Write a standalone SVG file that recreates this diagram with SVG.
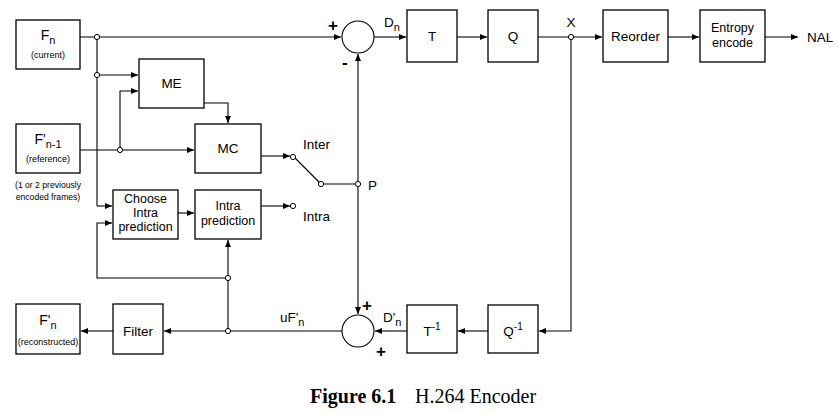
<svg xmlns="http://www.w3.org/2000/svg" width="839" height="414" viewBox="0 0 839 414">
<defs>
<marker id="ah" markerUnits="userSpaceOnUse" markerWidth="8" markerHeight="6" refX="7" refY="3" orient="auto-start-reverse">
<path d="M0,0 L7,3 L0,6 Z" fill="#000"/>
</marker>
</defs>
<style>
.box{fill:#fff;stroke:#000;stroke-width:1.3}
.ln{fill:none;stroke:#000;stroke-width:1.1}
.arr{fill:none;stroke:#000;stroke-width:1.1;marker-end:url(#ah)}
.jn{fill:#fff;stroke:#000;stroke-width:1}
.sum{fill:#fff;stroke:#000;stroke-width:1.1}
text{font-family:"Liberation Sans",Arial,sans-serif;fill:#000}
.t{font-size:13.5px;text-anchor:middle}
.m{font-size:12.5px;text-anchor:middle}
.s{font-size:9px;text-anchor:middle}
.l{font-size:13.5px}
.sg{font-size:17px;font-weight:bold}
.cap{font-family:"Liberation Serif","Times New Roman",serif;font-size:20px}
</style>
<rect width="839" height="414" fill="#fff"/>

<g id="connectors">
<path class="arr" d="M80,37 H341"/>
<path class="ln" d="M97,37 V206"/>
<path class="arr" d="M97,206 H112"/>
<path class="arr" d="M97,75 H138"/>
<path class="arr" d="M80,150 H194"/>
<path class="arr" d="M120,150 V91 H138"/>
<path class="arr" d="M204,103 H228 V123"/>
<path class="arr" d="M261,156 H290"/>
<path class="ln" d="M295,158 L319,182"/>
<path class="ln" d="M323,184 H358"/>
<path class="arr" d="M261,206 H290"/>
<path class="arr" d="M178,213 H194"/>
<path class="arr" d="M358,184 V54"/>
<path class="arr" d="M358,184 V314"/>
<path class="arr" d="M374,37 H406"/>
<path class="arr" d="M457,37 H487"/>
<path class="arr" d="M538,37 H602"/>
<path class="arr" d="M668,37 H699"/>
<path class="arr" d="M765,37 H798"/>
<path class="arr" d="M571,37 V331 H539"/>
<path class="arr" d="M488,331 H458"/>
<path class="arr" d="M407,331 H375"/>
<path class="arr" d="M342,331 H164"/>
<path class="arr" d="M113,331 H81"/>
<path class="arr" d="M228,331 V240"/>
<path class="arr" d="M228,278 H97 V223 H112"/>
<circle class="jn" cx="97" cy="37" r="2.6"/>
<circle class="jn" cx="97" cy="75" r="2.6"/>
<circle class="jn" cx="120" cy="150" r="2.6"/>
<circle class="jn" cx="293" cy="157" r="2.6"/>
<circle class="jn" cx="293" cy="206" r="2.6"/>
<circle class="jn" cx="321" cy="184" r="2.6"/>
<circle class="jn" cx="358" cy="184" r="2.6"/>
<circle class="jn" cx="571" cy="37" r="2.6"/>
<circle class="jn" cx="228" cy="278" r="2.6"/>
<circle class="jn" cx="228" cy="331" r="2.6"/>
</g>

<g id="Fn">
<rect class="box" x="16" y="20" width="64" height="49"/>
<text class="t" x="48" y="40" style="font-size:14px">F<tspan font-size="11" dy="4">n</tspan></text>
<text class="s" x="48" y="58">(current)</text>
</g>
<g id="Fn1">
<rect class="box" x="16" y="124" width="64" height="49"/>
<text class="t" x="48" y="144" style="font-size:14px">F'<tspan font-size="11" dy="4">n-1</tspan></text>
<text class="s" x="48" y="162">(reference)</text>
<text class="s" x="48" y="188" style="font-size:8.6px">(1 or 2 previously</text>
<text class="s" x="48" y="200" style="font-size:8.6px">encoded frames)</text>
</g>
<g id="ME">
<rect class="box" x="139" y="59" width="65" height="49"/>
<text class="t" x="171.5" y="88">ME</text>
</g>
<g id="MC">
<rect class="box" x="195" y="124" width="66" height="49"/>
<text class="t" x="228" y="153">MC</text>
</g>
<g id="switch">
<text class="l" x="303" y="149">Inter</text>
<text class="l" x="303" y="221">Intra</text>
<text class="l" x="368" y="190">P</text>
</g>
<g id="ChooseIntra">
<rect class="box" x="113" y="190" width="65" height="49"/>
<text class="m" x="145.5" y="203">Choose</text>
<text class="m" x="145.5" y="217">Intra</text>
<text class="m" x="145.5" y="231">prediction</text>
</g>
<g id="IntraPred">
<rect class="box" x="195" y="190" width="66" height="49"/>
<text class="m" x="228" y="210">Intra</text>
<text class="m" x="228" y="225">prediction</text>
</g>
<g id="sum1">
<circle class="sum" cx="358" cy="37" r="16"/>
<text class="sg" x="328" y="31">+</text>
<text class="sg" x="342" y="68">-</text>
<text class="l" x="384" y="27">D<tspan font-size="11" dy="4">n</tspan></text>
</g>
<g id="T">
<rect class="box" x="407" y="10" width="50" height="52"/>
<text class="t" x="432" y="41">T</text>
</g>
<g id="Q">
<rect class="box" x="488" y="10" width="50" height="52"/>
<text class="t" x="513" y="41">Q</text>
</g>
<text class="l" x="571" y="27" text-anchor="middle">X</text>
<g id="Reorder">
<rect class="box" x="603" y="10" width="65" height="52"/>
<text class="t" x="635.5" y="41">Reorder</text>
</g>
<g id="Entropy">
<rect class="box" x="700" y="10" width="65" height="52"/>
<text class="m" x="732.5" y="32">Entropy</text>
<text class="m" x="732.5" y="47">encode</text>
</g>
<text class="l" x="807" y="42">NAL</text>
<g id="Qinv">
<rect class="box" x="488" y="305" width="50" height="48"/>
<text class="t" x="513" y="336">Q<tspan font-size="10" dy="-6">-1</tspan></text>
</g>
<g id="Tinv">
<rect class="box" x="407" y="305" width="50" height="48"/>
<text class="t" x="432" y="336">T<tspan font-size="10" dy="-6">-1</tspan></text>
</g>
<g id="sum2">
<circle class="sum" cx="358" cy="331" r="16"/>
<text class="sg" x="362" y="311">+</text>
<text class="sg" x="376" y="357">+</text>
<text class="l" x="383" y="322">D'<tspan font-size="11" dy="4">n</tspan></text>
<text class="l" x="280" y="322">uF'<tspan font-size="11" dy="4">n</tspan></text>
</g>
<g id="Filter">
<rect class="box" x="113" y="304" width="50" height="50"/>
<text class="t" x="138" y="336">Filter</text>
</g>
<g id="Fnrec">
<rect class="box" x="16" y="304" width="64" height="50"/>
<text class="t" x="48" y="325" style="font-size:14px">F'<tspan font-size="11" dy="4">n</tspan></text>
<text class="s" x="48" y="345">(reconstructed)</text>
</g>
<g id="caption">
<text class="cap" x="310" y="403" font-weight="bold">Figure 6.1</text>
<text class="cap" x="415" y="403">H.264 Encoder</text>
</g>
</svg>
